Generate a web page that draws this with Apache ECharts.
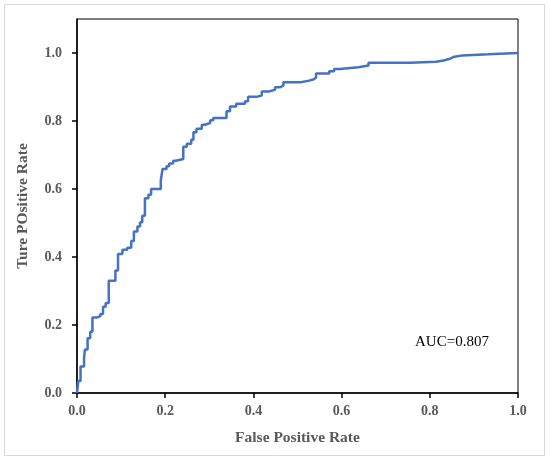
<!DOCTYPE html>
<html>
<head>
<meta charset="utf-8">
<script src="https://cdn.jsdelivr.net/npm/echarts@6/dist/echarts.min.js"></script>
<style>
  html, body { margin: 0; padding: 0; background: #fff; }
  #chart { width: 550px; height: 461px; }
</style>
</head>
<body>
<div id="chart"></div>
<script>
// ROC curve points (false positive rate, true positive rate)
var fpr = [0, 0.003, 0.008, 0.016, 0.018, 0.024, 0.030, 0.035, 0.045, 0.053, 0.059, 0.065,
  0.072, 0.087, 0.093, 0.103, 0.114, 0.123, 0.129, 0.137, 0.143, 0.148, 0.154, 0.162,
  0.168, 0.190, 0.194, 0.203, 0.209, 0.218, 0.224, 0.241, 0.249, 0.259, 0.264, 0.271,
  0.283, 0.290, 0.302, 0.309, 0.339, 0.347, 0.361, 0.381, 0.388, 0.407, 0.419, 0.436,
  0.449, 0.460, 0.468, 0.507, 0.524, 0.536, 0.542, 0.572, 0.583, 0.596, 0.638, 0.661,
  0.755, 0.814, 0.831, 0.846, 0.853, 0.874, 0.933, 1.0];
var tpr = [0, 0.035, 0.078, 0.102, 0.128, 0.161, 0.180, 0.222, 0.226, 0.232, 0.254, 0.265,
  0.330, 0.360, 0.409, 0.421, 0.427, 0.447, 0.475, 0.490, 0.502, 0.521, 0.573, 0.583,
  0.600, 0.625, 0.659, 0.667, 0.675, 0.683, 0.688, 0.724, 0.733, 0.745, 0.767, 0.777,
  0.789, 0.794, 0.802, 0.809, 0.829, 0.843, 0.851, 0.858, 0.871, 0.875, 0.887, 0.892,
  0.899, 0.904, 0.914, 0.918, 0.922, 0.927, 0.940, 0.946, 0.953, 0.958, 0.963, 0.971,
  0.974, 0.978, 0.983, 0.988, 0.993, 0.996, 1.0, 1.0];
var xTicks = [0, 0.2, 0.4, 0.6, 0.8, 1.0];
var yTicks = [0, 0.2, 0.4, 0.6, 0.8, 1.0];
var aucLabel = 'AUC=0.807';

var chart = echarts.init(document.getElementById('chart'));
var serif = '"Liberation Serif", "Times New Roman", serif';
var tickFont = { fontFamily: serif, fontSize: 14, fontWeight: 'bold', color: '#595959' };
var titleFont = { fontFamily: serif, fontSize: 15.5, fontWeight: 'bold', color: '#595959' };

var points = fpr.map(function (v, i) { return [v, tpr[i]]; });

option = {
  animation: false,
  grid: {
    left: 77, right: 32, top: 19, bottom: 68,
    show: true, borderColor: '#000', borderWidth: 1
  },
  xAxis: {
    type: 'value', min: 0, max: 1, interval: 0.2,
    name: 'False Positive Rate', nameLocation: 'middle', nameGap: 37,
    nameTextStyle: titleFont,
    axisLine: { show: true, lineStyle: { color: '#000', width: 1.5 } },
    axisTick: { show: true, length: 5, customValues: xTicks, lineStyle: { color: '#000', width: 1.5 } },
    axisLabel: Object.assign({ margin: 11, customValues: xTicks, formatter: function (v) { return v.toFixed(1); } }, tickFont),
    splitLine: { show: false }
  },
  yAxis: {
    type: 'value', min: 0, max: 1.1,
    name: 'Ture POsitive Rate', nameLocation: 'middle', nameGap: 46,
    nameTextStyle: titleFont,
    axisLine: { show: true, lineStyle: { color: '#000', width: 1.5 } },
    axisTick: { show: true, length: 5, customValues: yTicks, lineStyle: { color: '#000', width: 1.5 } },
    axisLabel: Object.assign({ margin: 15, customValues: yTicks, formatter: function (v) { return v.toFixed(1); } }, tickFont),
    splitLine: { show: false }
  },
  graphic: [
    {
      type: 'rect', silent: true, z: -1,
      shape: { x: 4.5, y: 4.5, width: 540, height: 451 },
      style: { fill: 'none', stroke: '#d9d9d9', lineWidth: 1 }
    },
    {
      type: 'text', left: 415, top: 335,
      style: { text: aucLabel, fontFamily: serif, fontSize: 15, fill: '#000' }
    }
  ],
  series: [{
    type: 'line',
    step: 'end',
    showSymbol: false,
    data: points,
    lineStyle: { color: '#4472C4', width: 2.5 },
    itemStyle: { color: '#4472C4' }
  }]
};

chart.setOption(option);
</script>
</body>
</html>
